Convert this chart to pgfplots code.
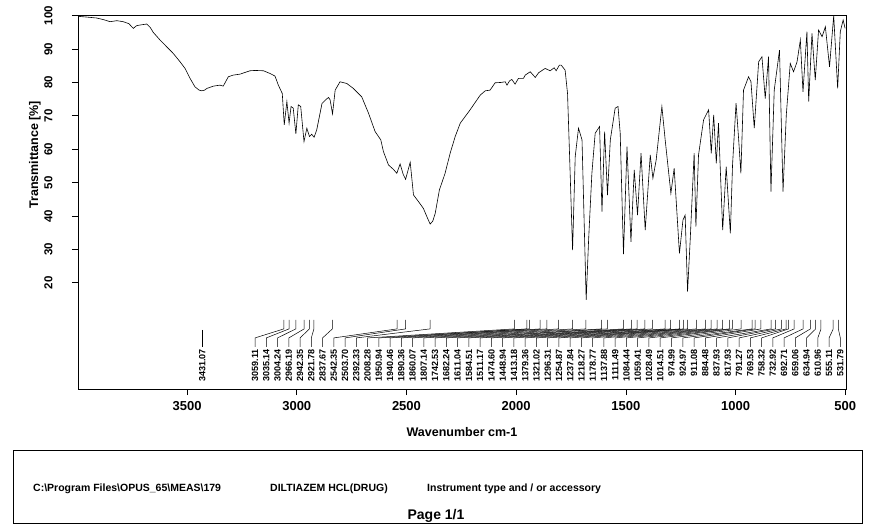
\documentclass[border=0pt]{standalone}
\usepackage{pgfplots}
\pgfplotsset{compat=1.18}
\usepackage{fontspec}
\setmainfont{Liberation Sans}
\newcommand\pkfont{\bfseries\fontsize{9}{9}\selectfont}

% spectrum, wavenumber (cm-1) vs transmittance (%)
\pgfplotstableread{
w T
3996 99.8
3960 99.6
3912 99.3
3880 98.8
3851 98.2
3820 98.5
3791 98.2
3765 97.6
3745 96.2
3730 97.0
3714 97.2
3684 97.5
3668 96.5
3654 95.0
3623 92.7
3593 90.7
3563 88.7
3532 86.2
3509 84.2
3486 81.2
3464 78.7
3445 77.7
3433 77.5
3420 77.7
3410 78.2
3380 78.9
3350 79.2
3335 78.9
3312 81.7
3290 82.2
3258 82.5
3213 83.5
3190 83.6
3152 83.5
3122 82.7
3099 81.9
3084 79.2
3066 76.7
3057 67.3
3045 74.3
3035 67.8
3026 72.8
3016 72.3
3004 64.6
2993 73.3
2982 72.8
2967 62.3
2954 66.3
2942 63.8
2932 64.5
2921 63.6
2909 65.8
2885 73.7
2865 75.0
2855 75.5
2848 74.8
2837 70.6
2825 77.7
2803 80.2
2772 79.7
2742 78.2
2704 75.7
2673 70.8
2643 65.3
2617 62.8
2605 59.3
2582 55.3
2560 54.0
2544 52.8
2529 55.6
2515 52.5
2504 51.0
2483 56.1
2468 46.3
2445 44.3
2423 42.3
2405 39.5
2392 37.6
2380 38.5
2369 40.8
2350 47.8
2324 52.8
2301 58.8
2278 63.8
2255 67.8
2210 71.8
2164 76.2
2141 77.5
2119 77.7
2096 79.9
2070 80.0
2050 80.2
2042 79.2
2030 80.5
2020 80.9
2005 79.5
1990 81.2
1967 81.2
1959 82.2
1936 83.2
1913 81.5
1898 82.9
1868 84.2
1845 83.5
1827 84.4
1818 83.5
1803 85.2
1795 85.2
1777 83.7
1766 76.7
1757 58.8
1743 29.8
1731 57.8
1716 66.3
1700 62.8
1681 14.9
1670 32.8
1655 52.8
1640 64.8
1620 66.8
1609 41.3
1597 65.3
1584 46.3
1571 62.8
1549 72.3
1536 72.8
1526 64.8
1511 28.6
1495 60.8
1477 32.3
1462 53.8
1447 40.3
1431 58.8
1412 35.8
1389 58.3
1377 51.3
1362 56.8
1336 72.8
1321 62.8
1295 46.8
1280 54.3
1256 28.8
1240 38.8
1230 40.3
1219 17.4
1207 32.8
1189 58.8
1181 36.8
1169 58.3
1146 68.8
1123 71.8
1111 58.8
1100 70.3
1088 55.8
1078 67.8
1059 35.8
1043 54.8
1024 34.8
1014 55.3
998 73.8
986 62.8
976 52.8
964 77.7
941 81.7
930 80.2
915 66.3
895 86.2
880 87.7
865 75.2
850 87.7
839 47.3
824 77.7
800 89.7
784 47.3
769 70.3
751 85.7
736 83.2
720 86.2
705 92.7
693 77.2
675 95.2
667 74.3
652 94.7
637 80.7
622 95.7
606 93.7
591 96.7
572 84.7
553 100
535 78.2
523 95.2
510 98.7
501 96.2
}\spectrum

\begin{document}
\begin{tikzpicture}
\path[use as bounding box] (0pt,0pt) rectangle (871pt,-528pt);
\begin{axis}[
  at={(78pt,-389pt)}, anchor=south west,
  scale only axis, width=768pt, height=374pt,
  x dir=reverse, xmin=497, xmax=3997,
  ymin=-11.8, ymax=100.2,
  axis line style={line width=0.9pt},
  tick align=outside, xtick pos=lower, ytick pos=left,
  major tick length=6pt, tick style={line width=0.8pt, black},
  xtick={500,1000,...,3500}, ytick={20,30,...,100},
  /pgf/number format/assume math mode=true,
  /pgf/number format/1000 sep={},
  xticklabel style={font=\bfseries\fontsize{13}{13}\selectfont, yshift=-3pt},
  yticklabel={\rotatebox{90}{\pgfmathprintnumber{\tick}}},
  every y tick label/.append style={font=\bfseries\fontsize{11.5}{12}\selectfont, anchor=east, xshift=-16pt},
  xlabel={Wavenumber cm-1}, ylabel={Transmittance [\%]},
  label style={font=\bfseries\fontsize{12.5}{13}\selectfont},
  xlabel style={at={(axis description cs:0.5,-0.093)}, anchor=north},
  ylabel style={at={(axis description cs:-0.056,0.626)}, anchor=center},
]
\addplot[black, line width=0.6pt] table[x=w, y=T] {\spectrum};

% peak labels
\draw[line width=0.5pt] (axis cs:3431.07,5.9) -- (axis cs:3431.07,0.8);
\node[rotate=90, anchor=east, inner sep=0pt, font=\pkfont] at (axis cs:3431.07,0.2) {3431.07};
\foreach \pk [count=\kk from 0] in {3059.11,3035.14,3004.24,2966.19,2942.35,2921.78,2837.67,2542.35,2503.70,2392.33,2008.28,1950.94,1940.46,1890.36,1860.07,1807.14,1742.53,1682.24,1611.04,1584.51,1511.17,1474.60,1448.94,1413.18,1379.36,1321.02,1296.31,1254.87,1237.84,1218.27,1178.77,1137.88,1111.49,1084.44,1059.41,1028.49,1014.51,974.99,924.97,911.08,884.48,837.93,817.93,791.27,769.53,758.32,732.92,692.71,659.06,634.94,610.96,555.11,531.79} {
  \pgfmathsetmacro\lw{3190.1-51.295*\kk}
  \edef\temp{\noexpand\draw[line width=0.5pt] (axis cs:\pk,8.9) -- (axis cs:\pk,6.2) -- (axis cs:\lw,3.5) -- (axis cs:\lw,0.8);
    \noexpand\node[rotate=90, anchor=east, inner sep=0pt, font=\noexpand\pkfont] at (axis cs:\lw,0.2) {\pk};}
  \temp
}
\end{axis}

% footer box
\draw[line width=0.8pt] (13pt,-450pt) rectangle (862pt,-523pt);
\begin{scope}[every node/.style={anchor=west, inner sep=0pt, font=\bfseries\fontsize{10.5}{11}\selectfont}]
\node at (33pt,-489pt) {C:\textbackslash Program Files\textbackslash OPUS\_65\textbackslash MEAS\textbackslash 179};
\node at (270pt,-489pt) {DILTIAZEM HCL(DRUG)};
\node at (427pt,-489pt) {Instrument type and / or accessory};
\end{scope}
\node[inner sep=0pt, font=\bfseries\fontsize{14}{15}\selectfont] at (436pt,-516pt) {Page 1/1};
\end{tikzpicture}
\end{document}
